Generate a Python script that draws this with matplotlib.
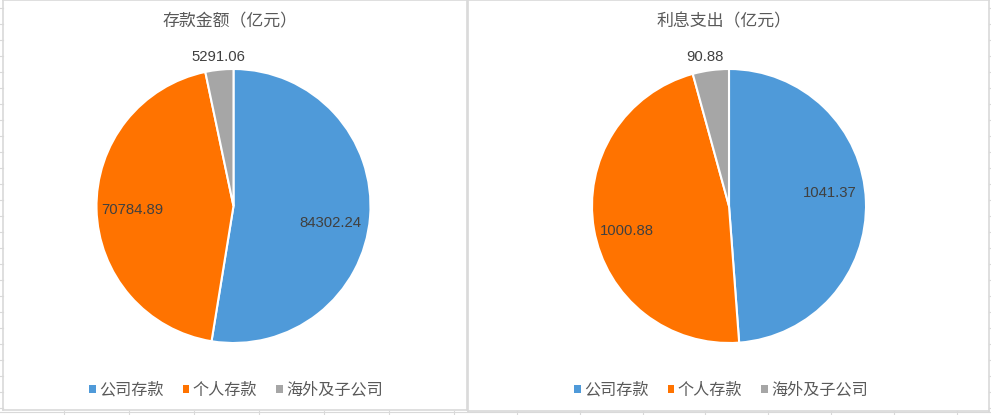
import matplotlib
matplotlib.use("Agg")
import matplotlib.pyplot as plt
import numpy as np
from matplotlib.lines import Line2D

# ---- data ----
categories = ["公司存款", "个人存款", "海外及子公司"]
deposit_values = [84302.24, 70784.89, 5291.06]
interest_values = [1041.37, 1000.88, 90.88]
deposit_labels = ["84302.24", "70784.89", "5291.06"]
interest_labels = ["1041.37", "1000.88", "90.88"]
titles = ["存款金额（亿元）", "利息支出（亿元）"]

colors = ["#4F9AD9", "#FF7300", "#A6A6A6"]

W, H = 991, 415
fig = plt.figure(figsize=(W / 100, H / 100), dpi=100)
fig.patch.set_facecolor("white")

GRID = "#d9d9d9"
# faint spreadsheet grid around the chart boxes
for y in range(8, 412, 16):
    fig.add_artist(Line2D([0, 3 / W], [1 - y / H, 1 - y / H], color=GRID, lw=0.8))
    fig.add_artist(Line2D([989 / W, 1], [1 - y / H, 1 - y / H], color=GRID, lw=0.8))
for x in [64, 129, 194, 259, 324, 389, 454, 517, 580, 643, 705, 768, 831, 894, 957]:
    fig.add_artist(Line2D([x / W, x / W], [0, 4 / H], color=GRID, lw=0.8))
fig.add_artist(Line2D([0, 1], [3.5 / H, 3.5 / H], color=GRID, lw=0.8))

R = 137.0  # pixels per data unit (pie radius)

# label placement style: (radius factor, angle offset deg)
label_style = [
    [(0.72, -5.3), (0.738, 0.9), (1.093, -0.3)],
    [(0.741, 5.2), (0.767, 4.0), (1.102, 1.5)],
]

panels = [
    dict(box=(3, 467), top=0, bottom=410, cx=233.5, cy=206, vals=deposit_values,
         labs=deposit_labels, title=titles[0], tx=230, legx=236),
    dict(box=(468, 989), top=0, bottom=411, cx=729, cy=206, vals=interest_values,
         labs=interest_labels, title=titles[1], tx=724.5, legx=721),
]

for i, p in enumerate(panels):
    x0, x1 = p["box"]
    ax = fig.add_axes([x0 / W, (H - p["bottom"]) / H, (x1 - x0) / W, (p["bottom"] - p["top"]) / H])
    wedges, _ = ax.pie(p["vals"], colors=colors, startangle=90, counterclock=False,
                       radius=1.0, wedgeprops=dict(edgecolor="white", linewidth=1.5))
    ax.set_aspect("auto")
    ax.set_xlim((x0 - p["cx"]) / R, (x1 - p["cx"]) / R)
    ax.set_ylim((p["cy"] - p["bottom"]) / R, (p["cy"] - p["top"]) / R)
    ax.set_frame_on(True)
    for s in ax.spines.values():
        s.set_color(GRID)
        s.set_linewidth(1.2)
    ax.set_xticks([])
    ax.set_yticks([])

    for w, lab, (rf, off) in zip(wedges, p["labs"], label_style[i]):
        mid = np.deg2rad((w.theta1 + w.theta2) / 2 + off)
        ax.text(rf * np.cos(mid), rf * np.sin(mid), lab, ha="center", va="center",
                fontsize=10.7, color="#404040", family=["Liberation Sans", "DejaVu Sans"])

    ax.text((p["tx"] - p["cx"]) / R, (p["cy"] - 21) / R, p["title"], ha="center", va="center",
            fontsize=12.2, color="#595959", family=["Noto Sans CJK SC", "DejaVu Sans"])

    leg = ax.legend(wedges, categories, loc="center", ncol=3, frameon=False,
                    bbox_to_anchor=((p["legx"] - x0) / (x1 - x0), (p["bottom"] - 390) / (p["bottom"] - p["top"])),
                    prop=dict(family=["Noto Sans CJK SC", "DejaVu Sans"], size=11.6),
                    handlelength=0.42, handleheight=0.42, handletextpad=0.2,
                    columnspacing=1.2, borderpad=0, borderaxespad=0)
    for t in leg.get_texts():
        t.set_color("#595959")
    for h in leg.legend_handles:
        h.set_edgecolor("none")

fig.savefig("out.png", dpi=100, facecolor="white")
